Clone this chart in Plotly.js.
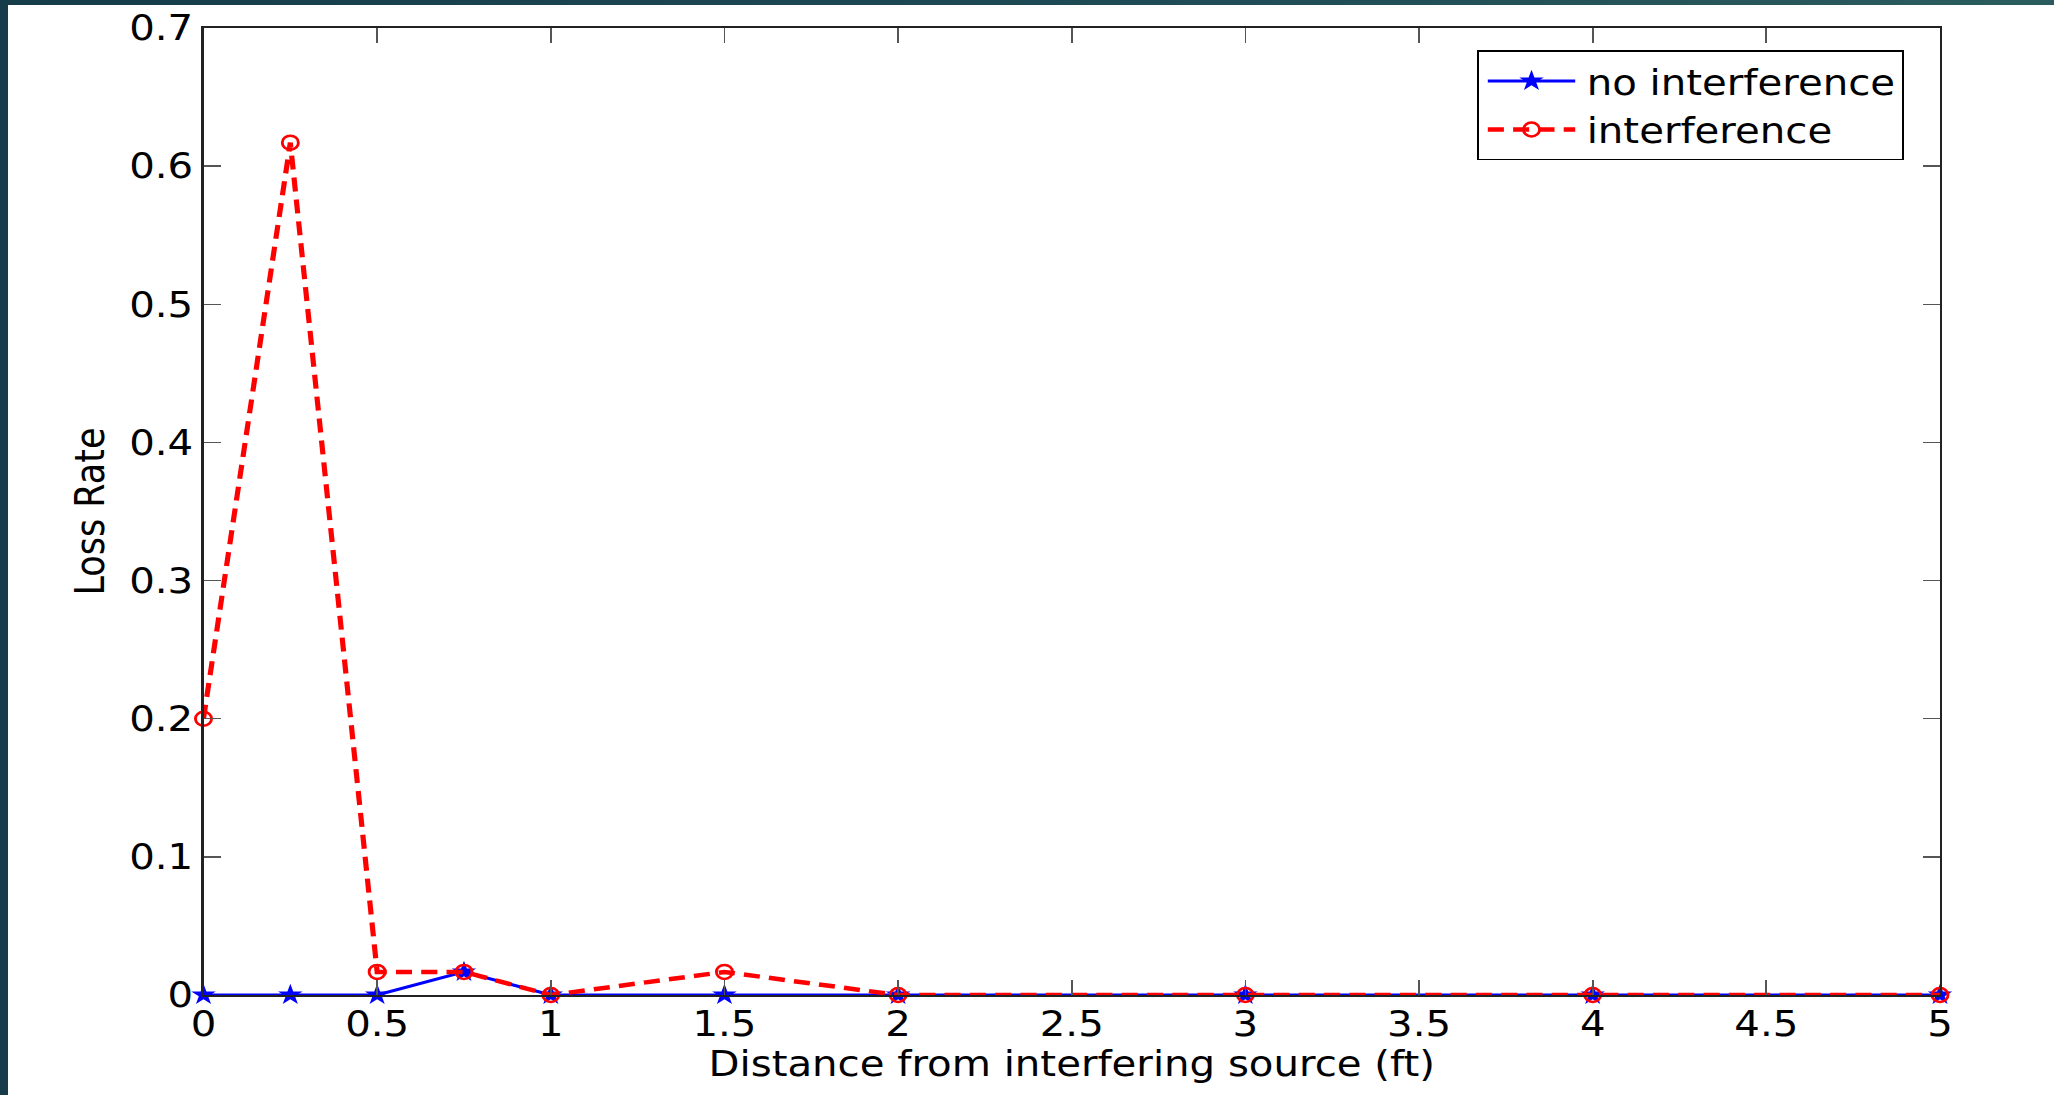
<!DOCTYPE html>
<html>
<head>
<meta charset="utf-8">
<script src="https://cdn.plot.ly/plotly-3.0.1.min.js"></script>
<style>
  html, body { margin: 0; padding: 0; }
  body {
    width: 2054px; height: 1095px; overflow: hidden;
    background: linear-gradient(90deg, #163b49 0%, #1f4c56 60%, #2b5c5d 100%);
    position: relative;
  }
  #frame { position: absolute; left: 8px; top: 5px; width: 2046px; height: 1090px; background: #fff; overflow: hidden; }
  /* the figure is drawn narrow and widened horizontally */
  #chart { position: absolute; left: 0; top: 0; width: 1779px; height: 1090px;
           transform: scaleX(1.15); transform-origin: 0 0; }
</style>
</head>
<body>
<div id="frame"><div id="chart"></div></div>
<script>
// Distance from the interfering source, in feet
const distanceFt = [0, 0.25, 0.5, 0.75, 1, 1.5, 2, 3, 4, 5];
// Measured loss rate without an interfering source
const lossNoInterference = [0, 0, 0, 0.0167, 0, 0, 0, 0, 0, 0];
// Measured loss rate with an interfering source
const lossInterference = [0.2, 0.617, 0.0167, 0.0167, 0, 0.0167, 0, 0, 0, 0];

const xTicks = [0, 0.5, 1, 1.5, 2, 2.5, 3, 3.5, 4, 4.5, 5];
const yTicks = [0, 0.1, 0.2, 0.3, 0.4, 0.5, 0.6, 0.7];

const FONT = 'DejaVu Sans, Liberation Sans, Arial, sans-serif';
const FSIZE = 35;

const traces = [
  {
    x: distanceFt, y: lossNoInterference,
    name: 'no interference',
    type: 'scatter', mode: 'lines+markers',
    line: { color: '#0000ff', width: 3 },
    marker: { symbol: 'star', size: 16, color: '#0000ff' },
    cliponaxis: false
  },
  {
    x: distanceFt, y: lossInterference,
    name: 'interference',
    type: 'scatter', mode: 'lines+markers',
    line: { color: '#ff0000', width: 4.5, dash: '14px,8px' },
    marker: { symbol: 'circle-open', size: 14, color: '#ff0000', line: { width: 2.5, color: '#ff0000' } },
    cliponaxis: false
  }
];

const axisCommon = {
  showgrid: false, zeroline: false,
  showline: true, linecolor: '#222', linewidth: 2,
  mirror: 'ticks', ticks: 'inside', ticklen: 15, tickwidth: 1.5, tickcolor: '#555',
  tickfont: { family: FONT, size: FSIZE, color: '#000' },
  fixedrange: true
};

const layout = {
  width: 1779, height: 1090,
  margin: { l: 170, r: 99, t: 23, b: 100 },
  paper_bgcolor: '#ffffff', plot_bgcolor: '#ffffff',
  showlegend: true,
  legend: {
    x: 0.979, y: 0.977, xanchor: 'right', yanchor: 'top',
    bgcolor: '#ffffff', bordercolor: '#000', borderwidth: 1.5,
    font: { family: FONT, size: FSIZE, color: '#000' },
    itemwidth: 84, tracegroupgap: 0
  },
  xaxis: Object.assign({}, axisCommon, {
    range: [0, 5], tickmode: 'array', tickvals: xTicks,
    ticklabelstandoff: -3,
    title: { text: 'Distance from interfering source (ft)', font: { family: FONT, size: FSIZE, color: '#000' }, standoff: 8 }
  }),
  yaxis: Object.assign({}, axisCommon, {
    range: [0, 0.7], tickmode: 'array', tickvals: yTicks,
    ticklabelstandoff: 0,
    title: { text: 'Loss Rate', font: { family: FONT, size: FSIZE, color: '#000' }, standoff: 11 }
  })
};

Plotly.newPlot('chart', traces, layout, { displayModeBar: false, staticPlot: true }).then(gd => {
  // lengthen the legend line samples and centre the markers on them
  gd.querySelectorAll('.legend .traces').forEach(tr => {
    tr.querySelectorAll('.legendlines path').forEach(p => p.setAttribute('d', 'M8,0h76'));
    tr.querySelectorAll('.legendpoints path.scatterpts').forEach(p => p.setAttribute('transform', 'translate(46,0)'));
  });
});
</script>
</body>
</html>
